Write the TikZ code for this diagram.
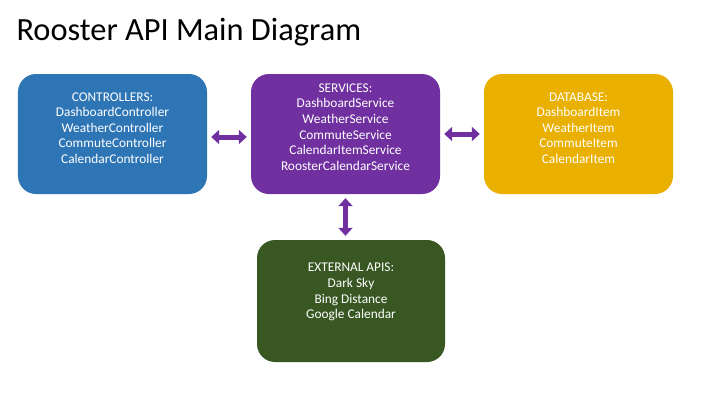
\documentclass[tikz,border=0pt]{standalone}
\usepackage{fontspec}
\setmainfont{Carlito}
\usetikzlibrary{arrows.meta}
\definecolor{ctrlblue}{HTML}{2E75B6}
\definecolor{svcpurple}{HTML}{7030A0}
\definecolor{dbgold}{HTML}{EAB000}
\definecolor{extgreen}{HTML}{385723}
\begin{document}
\begin{tikzpicture}[x=1bp,y=-1bp,
  layer/.style={rounded corners=18bp, minimum width=189bp, minimum height=120bp, inner sep=0pt},
  layertext/.style={text=white, align=center, font=\fontsize{13.4}{15.7}\selectfont},
  link/.style={line width=5bp, draw=svcpurple, {Triangle[width=14bp,length=8bp]}-{Triangle[width=14bp,length=8bp]}, shorten >=4bp, shorten <=4bp}]
\useasboundingbox[fill=white] (0,0) rectangle (720,405);
\node[anchor=base west, font=\fontsize{32.5}{38}\selectfont] (title) at (13,40) {Rooster API Main Diagram};
% the four layers
\node[layer, fill=ctrlblue] (ctrl) at (112.5,134) {};
\node[layer, fill=svcpurple] (svc) at (345.5,134) {};
\node[layer, fill=dbgold] (db) at (578.5,134) {};
\node[layer, fill=extgreen, minimum width=188bp, minimum height=122bp] (ext) at (351,301) {};
\node[layertext] (ctrltext) at ([yshift=6bp]ctrl.center) {CONTROLLERS:\\DashboardController\\WeatherController\\CommuteController\\CalendarController};
\node[layertext] (svctext) at ([yshift=7bp]svc.center) {SERVICES:\\DashboardService\\WeatherService\\CommuteService\\CalendarItemService\\RoosterCalendarService};
\node[layertext] (dbtext) at ([yshift=6bp]db.center) {DATABASE:\\DashboardItem\\WeatherItem\\CommuteItem\\CalendarItem};
\node[layertext] (exttext) at ([yshift=9bp]ext.center) {EXTERNAL APIS:\\Dark Sky\\Bing Distance\\Google Calendar};
% links
\draw[link] ([yshift=-3bp]ctrl.east) -- ([yshift=-3bp]svc.west);
\draw[link] (svc.east) -- (db.west);
\draw[link] (svc.south) -- (svc.south |- ext.north);
\end{tikzpicture}
\end{document}
